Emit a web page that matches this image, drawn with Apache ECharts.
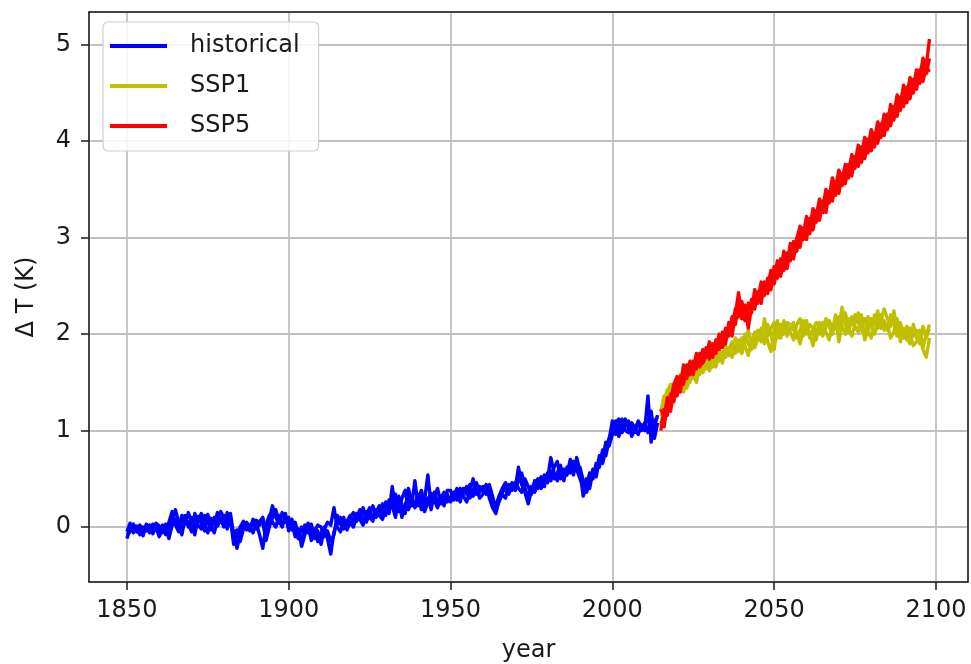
<!DOCTYPE html>
<html>
<head>
<meta charset="utf-8">
<script src="https://cdn.jsdelivr.net/npm/echarts@6/dist/echarts.min.js"></script>
<style>
html,body{margin:0;padding:0;background:#fff;}
#chart{width:971px;height:664px;}
</style>
</head>
<body>
<div id="chart"></div>
<script>
// ---- data ----
const histStart = 1850;
const sspStart = 2015;
const seriesNames = ['historical', 'SSP1', 'SSP5'];
const xTickLabels = [1850, 1900, 1950, 2000, 2050, 2100];
const yTickLabels = [0, 1, 2, 3, 4, 5];

const histA = [
-0.12,-0.02,0.00,-0.05,0.02,-0.03,0.01,-0.06,0.03,-0.01,
-0.04,0.02,-0.08,0.05,0.16,0.02,-0.05,0.08,0.12,0.00,
0.10,-0.04,0.06,0.14,0.02,-0.06,0.09,0.03,0.15,0.05,
0.12,0.04,0.08,-0.18,-0.10,0.00,0.06,-0.03,0.02,0.05,
-0.02,0.06,0.10,-0.05,0.08,0.22,0.10,0.04,0.15,0.06,
0.02,0.08,-0.06,-0.12,0.00,-0.05,0.04,-0.10,-0.02,-0.15,
-0.06,0.00,-0.12,-0.28,-0.05,0.04,0.10,-0.02,0.06,0.12,
0.05,0.14,0.08,0.02,0.16,0.10,0.06,0.18,0.12,0.08,
0.20,0.14,0.42,0.18,0.26,0.10,0.24,0.30,0.22,0.48,
0.22,0.32,0.16,0.26,0.35,0.28,0.20,0.30,0.36,0.26,
0.30,0.36,0.28,0.40,0.32,0.26,0.38,0.50,0.34,0.42,
0.38,0.44,0.30,0.20,0.14,0.28,0.36,0.40,0.34,0.46,
0.40,0.62,0.44,0.36,0.24,0.38,0.44,0.50,0.40,0.46,
0.50,0.72,0.56,0.48,0.60,0.52,0.58,0.66,0.54,0.72,
0.58,0.32,0.42,0.56,0.50,0.66,0.62,0.80,0.74,0.90,
1.10,0.96,1.04,1.12,1.00,0.98,1.08,1.02,0.96,1.06,
1.00,1.36,0.88,1.10,1.14];
const histB = [
-0.08,-0.05,0.03,-0.02,-0.08,0.00,-0.04,0.02,-0.03,0.04,
0.01,-0.06,0.03,-0.03,0.06,0.18,0.05,-0.08,0.10,0.04,
-0.05,0.14,0.02,-0.02,0.12,0.06,-0.03,0.10,0.01,0.08,
0.00,0.15,0.02,-0.05,-0.22,-0.08,0.03,0.01,-0.04,0.08,
0.04,-0.08,-0.22,0.02,0.12,0.05,0.00,0.12,0.03,0.09,
0.10,-0.03,0.05,-0.08,-0.15,0.02,-0.06,0.03,-0.12,-0.04,
-0.18,-0.02,0.05,0.02,0.20,0.00,-0.05,0.08,0.02,0.10,
0.15,0.06,0.12,0.20,0.05,0.14,0.22,0.10,0.16,0.24,
0.12,0.28,0.20,0.34,0.16,0.30,0.38,0.18,0.28,0.24,
0.34,0.18,0.28,0.54,0.22,0.32,0.40,0.24,0.30,0.34,
0.26,0.32,0.40,0.30,0.36,0.42,0.30,0.38,0.46,0.36,
0.42,0.34,0.38,0.28,0.22,0.32,0.40,0.46,0.38,0.42,
0.38,0.48,0.56,0.40,0.32,0.42,0.36,0.46,0.52,0.42,
0.56,0.48,0.62,0.68,0.50,0.60,0.54,0.70,0.62,0.58,
0.62,0.48,0.36,0.44,0.60,0.56,0.74,0.70,0.88,0.84,
0.96,1.08,1.12,0.98,1.06,1.10,0.94,1.04,1.08,1.00,
1.08,1.12,1.02,1.04,1.16];
const histC = [
-0.05,0.04,-0.06,0.01,-0.02,-0.09,0.03,-0.01,-0.07,0.00,
-0.10,-0.02,0.00,-0.12,0.02,0.08,-0.02,0.12,0.03,0.15,
0.05,-0.08,0.11,0.04,-0.04,0.13,0.02,-0.06,0.07,0.16,
0.09,-0.02,0.14,-0.08,-0.03,-0.15,-0.02,0.05,0.00,-0.06,
0.07,0.02,0.05,-0.14,0.00,0.10,0.18,0.06,0.00,0.14,
-0.04,0.05,-0.10,-0.02,-0.20,-0.08,0.01,-0.14,-0.05,0.02,
0.00,-0.10,-0.04,-0.15,-0.08,0.12,0.03,0.10,-0.03,0.05,
0.00,0.10,0.18,0.05,0.12,0.20,0.08,0.15,0.22,0.12,
0.26,0.18,0.22,0.10,0.32,0.22,0.14,0.40,0.26,0.20,
0.28,0.38,0.24,0.30,0.18,0.36,0.26,0.32,0.22,0.38,
0.38,0.28,0.34,0.26,0.40,0.34,0.44,0.32,0.40,0.30,
0.34,0.40,0.44,0.32,0.18,0.26,0.34,0.30,0.44,0.38,
0.46,0.40,0.36,0.50,0.42,0.34,0.48,0.40,0.46,0.54,
0.46,0.58,0.50,0.56,0.64,0.48,0.62,0.56,0.68,0.60,
0.50,0.42,0.50,0.40,0.58,0.52,0.70,0.66,0.80,0.92,
1.02,1.10,0.94,1.04,1.12,1.02,1.06,0.98,1.10,1.04,
1.06,0.98,1.20,0.92,1.08];

const ssp1A = [
1.05,1.30,1.42,1.38,1.48,1.44,1.52,1.40,1.55,1.50,
1.62,1.56,1.66,1.60,1.72,1.68,1.76,1.66,1.80,1.74,
1.80,1.86,1.76,1.90,1.82,1.96,1.88,1.78,1.92,2.02,
1.94,2.06,1.90,2.10,2.00,1.84,2.08,2.02,2.14,1.98,
2.06,2.12,1.96,2.04,2.14,2.00,2.10,2.06,1.94,2.12,
2.04,2.16,2.08,2.00,2.14,2.06,2.28,2.10,2.02,2.18,
2.08,2.02,2.20,1.94,2.04,2.16,2.10,2.24,2.06,2.14,
2.04,2.20,2.10,1.98,2.08,2.02,1.94,2.06,1.98,2.04,
1.90,2.08,1.96,2.06];
const ssp1B = [
1.20,1.36,1.32,1.46,1.40,1.50,1.46,1.56,1.48,1.60,
1.54,1.64,1.58,1.70,1.74,1.62,1.70,1.78,1.72,1.82,
1.76,1.84,1.92,1.80,1.94,1.86,2.00,1.90,1.84,1.96,
2.04,1.92,2.16,1.98,2.06,2.12,1.96,2.10,2.00,2.08,
2.02,1.94,2.10,2.16,1.98,2.08,2.02,1.88,2.06,2.00,
2.12,2.02,1.94,2.10,2.06,2.18,2.08,2.00,2.16,2.10,
2.20,2.12,2.04,1.98,2.18,2.08,2.00,2.12,2.20,2.04,
2.10,1.96,2.02,2.16,1.92,2.06,1.98,1.90,2.10,1.96,
2.04,1.86,2.00,2.10];
const ssp1C = [
1.15,1.24,1.40,1.48,1.36,1.42,1.58,1.50,1.44,1.54,
1.58,1.50,1.68,1.74,1.64,1.76,1.66,1.72,1.84,1.70,
1.88,1.78,1.84,1.96,1.88,1.80,1.92,2.04,1.90,1.86,
1.96,2.00,2.08,1.92,1.82,2.04,2.14,1.96,2.06,2.12,
2.10,2.04,2.02,1.90,2.06,2.14,1.96,2.04,2.12,2.08,
1.98,2.08,2.14,2.04,2.20,1.92,2.12,2.22,2.06,1.98,
2.12,2.22,2.10,2.16,2.02,1.96,2.20,2.06,2.14,2.26,
2.16,2.08,2.24,2.04,2.12,1.96,2.08,2.00,1.88,1.92,
1.98,1.84,1.76,1.96];

const ssp5A = [
1.00,1.22,1.16,1.38,1.30,1.50,1.40,1.62,1.54,1.66,
1.58,1.76,1.66,1.72,1.86,1.74,1.90,1.80,2.00,1.86,
1.96,2.08,1.98,2.20,2.43,2.16,2.30,2.06,2.28,2.40,
2.32,2.50,2.40,2.58,2.46,2.70,2.58,2.78,2.66,2.84,
2.76,2.96,2.86,3.06,2.98,3.16,3.04,3.24,3.16,3.34,
3.26,3.46,3.36,3.54,3.44,3.66,3.54,3.72,3.62,3.80,
3.72,3.90,3.78,3.98,3.88,4.06,3.94,4.14,4.04,4.22,
4.12,4.34,4.22,4.42,4.32,4.54,4.40,4.60,4.50,4.70,
4.60,4.80,4.70,4.86];
const ssp5B = [
1.10,1.04,1.26,1.20,1.42,1.36,1.56,1.48,1.68,1.58,
1.72,1.64,1.80,1.70,1.78,1.88,1.76,1.94,1.84,2.02,
1.90,2.12,2.04,2.26,2.18,2.34,2.20,2.12,2.36,2.26,
2.44,2.32,2.54,2.42,2.62,2.52,2.72,2.60,2.78,2.68,
2.90,2.78,3.00,2.90,3.10,2.98,3.20,3.08,3.28,3.18,
3.38,3.26,3.48,3.38,3.58,3.46,3.66,3.56,3.76,3.64,
3.84,3.74,3.94,3.82,4.02,3.90,4.08,3.98,4.18,4.06,
4.28,4.16,4.36,4.26,4.46,4.36,4.56,4.44,4.64,4.54,
4.74,4.62,4.78,4.72];
const ssp5C = [
1.22,1.14,1.34,1.28,1.48,1.56,1.46,1.68,1.58,1.72,
1.64,1.80,1.72,1.84,1.76,1.92,1.82,1.88,1.96,1.90,
2.06,1.98,2.18,2.10,2.30,2.24,2.14,2.32,2.22,2.46,
2.36,2.54,2.44,2.50,2.66,2.56,2.76,2.64,2.86,2.74,
2.94,2.84,2.98,3.12,3.02,3.22,3.10,3.30,3.22,3.40,
3.30,3.50,3.42,3.62,3.52,3.70,3.60,3.76,3.68,3.86,
3.78,3.96,3.86,4.04,3.94,4.12,4.02,4.20,4.10,4.28,
4.18,4.38,4.28,4.48,4.38,4.58,4.48,4.66,4.56,4.74,
4.66,4.86,4.78,5.06];

// ---- chart ----
const colors = { historical: '#0000ff', SSP1: '#bfbf00', SSP5: '#ff0000' };
function toPairs(start, arr) { return arr.map((v, i) => [start + i, v]); }
function mk(name, start, arr) {
  return {
    name: name, type: 'line', data: toPairs(start, arr),
    xAxisIndex: 0, yAxisIndex: 0,
    showSymbol: false, symbol: 'none', silent: true,
    lineStyle: { color: colors[name], width: 3.4, join: 'round' },
    itemStyle: { color: colors[name] }
  };
}
const series = [
  mk('historical', histStart, histA), mk('historical', histStart, histB), mk('historical', histStart, histC),
  mk('SSP1', sspStart, ssp1A), mk('SSP1', sspStart, ssp1B), mk('SSP1', sspStart, ssp1C),
  mk('SSP5', sspStart, ssp5A), mk('SSP5', sspStart, ssp5B), mk('SSP5', sspStart, ssp5C)
];
const FONT = 'DejaVu Sans';
const XMIN = 1838.3, XMAX = 2109.9, YMIN = -0.57, YMAX = 5.34;
const frameLine = { show: true, onZero: false, lineStyle: { color: '#1a1a1a', width: 1.5 } };
const isTick = (list, v) => list.indexOf(Math.round(v)) >= 0 && Math.abs(v - Math.round(v)) < 1e-6;
const chart = echarts.init(document.getElementById('chart'), null, { renderer: 'canvas' });
chart.setOption({
  animation: false,
  backgroundColor: '#ffffff',
  textStyle: { fontFamily: FONT },
  grid: { left: 89, right: 3, top: 12, bottom: 82, containLabel: false, outerBoundsMode: 'none' },
  legend: {
    data: seriesNames, orient: 'vertical', left: 103, top: 22,
    icon: 'rect', itemWidth: 57, itemHeight: 4, itemGap: 16,
    padding: [12, 19, 13, 7],
    backgroundColor: 'rgba(255,255,255,0.85)', borderColor: '#d0d0d0', borderWidth: 1.2, borderRadius: 5,
    textStyle: { fontFamily: FONT, fontSize: 24, color: '#1a1a1a', lineHeight: 24, padding: [0, 0, 0, 18] },
    selectedMode: false
  },
  xAxis: [{
    type: 'value', min: XMIN, max: XMAX, position: 'bottom',
    name: 'year', nameLocation: 'middle', nameGap: 57,
    nameTextStyle: { fontFamily: FONT, fontSize: 24, color: '#1a1a1a' },
    axisLine: frameLine,
    axisTick: { show: true, inside: false, length: 8, lineStyle: { color: '#1a1a1a', width: 1.5 } },
    axisLabel: { fontFamily: FONT, fontSize: 24, color: '#1a1a1a', margin: 17,
      showMinLabel: false, showMaxLabel: false,
      formatter: v => isTick(xTickLabels, v) ? String(Math.round(v)) : '' },
    splitLine: { show: true, lineStyle: { color: '#c0c0c0', width: 1.8 } }
  }, {
    type: 'value', min: XMIN, max: XMAX, position: 'top',
    axisLine: frameLine, axisTick: { show: false }, axisLabel: { show: false }, splitLine: { show: false }
  }],
  yAxis: [{
    type: 'value', min: YMIN, max: YMAX, position: 'left',
    name: 'Δ T (K)', nameLocation: 'middle', nameGap: 50, nameRotate: 90,
    nameTextStyle: { fontFamily: FONT, fontSize: 24, color: '#1a1a1a' },
    axisLine: frameLine,
    axisTick: { show: true, inside: false, length: 8, lineStyle: { color: '#1a1a1a', width: 1.5 } },
    axisLabel: { fontFamily: FONT, fontSize: 24, color: '#1a1a1a', margin: 18,
      showMinLabel: false, showMaxLabel: false,
      formatter: v => isTick(yTickLabels, v) ? String(Math.round(v)) : '' },
    splitLine: { show: true, lineStyle: { color: '#c0c0c0', width: 1.8 } }
  }, {
    type: 'value', min: YMIN, max: YMAX, position: 'right',
    axisLine: frameLine, axisTick: { show: false }, axisLabel: { show: false }, splitLine: { show: false }
  }],
  series: series
});
</script>
</body>
</html>
